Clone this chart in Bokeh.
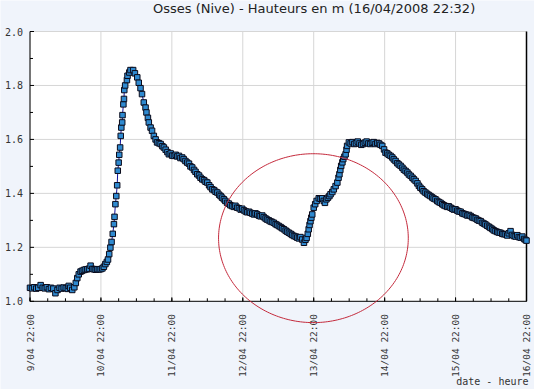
import numpy as np
from math import pi
from bokeh.plotting import figure
from bokeh.models import Range1d, PolyAnnotation, ColumnDataSource
from bokeh.core.properties import value
from bokeh.embed import file_html
from bokeh.resources import INLINE

# hours since 9/04 22:00
hours = [
    0.0, 0.7, 1.4, 2.1, 2.8, 3.6, 4.3, 5.0, 5.7, 6.4, 7.1, 7.9, 8.6, 9.3, 10.0, 10.7, 11.4, 12.1, 12.8, 13.1, 13.6, 14.3, 15.0,
    15.5, 16.0, 16.5, 17.1, 17.6, 18.2, 18.8, 19.4, 20.0, 20.5, 21.1, 21.6, 22.2, 22.7, 23.3, 23.9, 24.5, 25.0, 25.5, 26.0, 26.4,
    26.8, 27.2, 27.6, 28.0, 28.4, 28.6, 28.9, 29.2, 29.5, 29.7, 30.0, 30.2, 30.5, 30.7, 30.9, 31.2, 31.3, 31.6, 31.8, 31.9, 32.2, 32.8, 33.0, 33.6, 34.0,
    34.9, 35.5, 36.3, 36.8, 37.4, 37.9, 38.5, 39.1, 39.4, 39.9, 40.2, 40.8, 41.3, 41.9, 42.5, 43.0, 43.6, 44.2, 44.8, 45.3,
    45.9, 46.5, 47.0, 47.6, 48.1, 48.7, 49.3, 49.8, 50.4, 50.9, 51.5, 52.0, 52.6, 53.2, 53.8, 54.3, 54.9, 55.5, 56.0, 56.6, 57.2, 57.7,
    58.3, 58.9, 59.4, 60.0, 60.6, 61.1, 61.7, 62.3, 62.8, 63.4, 64.0, 64.5, 65.0, 65.6, 66.1, 66.7, 67.3, 67.8, 68.4, 69.0, 69.5, 70.1,
    70.7, 71.3, 71.8, 72.4, 73.0, 73.5, 74.1, 74.6, 75.2, 75.8, 76.3, 76.9, 77.5, 78.0, 78.6, 79.1, 79.7, 80.2, 80.8, 81.4, 81.9,
    82.5, 83.1, 83.6, 84.2, 84.8, 85.3, 85.9, 86.5, 87.0, 87.6, 88.2, 88.7, 89.3, 89.9, 90.4, 91.0, 91.5, 92.1, 92.7, 93.2,
    93.6, 94.0, 94.3, 94.6, 94.9, 95.2, 95.5, 96.0, 96.5, 97.0, 97.7, 98.3, 98.9, 99.4, 99.8, 100.3, 100.8,
    101.3, 101.7, 102.3, 102.8, 103.4, 104.0, 104.4, 104.7, 105.0, 105.3, 105.7, 106.0, 106.4, 106.8, 107.1, 107.3, 107.9,
    108.5, 109.1, 109.7, 110.3, 110.9, 111.5, 112.1, 112.7, 113.3, 113.9, 114.5, 115.1, 115.7, 116.3, 116.9, 117.5, 118.1, 118.6,
    119.2, 119.8, 120.3, 120.9, 121.4, 122.0, 122.6, 123.1, 123.7, 124.3, 124.8, 125.4, 126.0, 126.5, 127.1, 127.7, 128.2, 128.8, 129.4, 129.9,
    130.5, 131.1, 131.6, 132.1, 132.7, 133.2, 133.8, 134.4, 134.9, 135.5, 136.1, 136.6, 137.2, 137.8, 138.3, 138.9, 139.5, 140.0, 140.6, 141.2, 141.7,
    142.3, 142.9, 143.4, 144.0, 144.6, 145.1, 145.7, 146.3, 146.8, 147.4, 148.0, 148.5, 149.1, 149.7, 150.2, 150.8, 151.4, 151.9, 152.5, 153.1,
    153.6, 154.1, 154.7, 155.3, 155.8, 156.4, 156.9, 157.5, 158.1, 158.6, 159.2, 159.8, 160.3, 160.9, 161.5, 162.0, 162.6, 163.1, 163.7, 164.3,
    164.9, 165.4, 166.0, 166.6, 167.2, 167.7, 168.0,
]

# water height (m)
heights = [
    1.050, 1.048, 1.052, 1.047, 1.050, 1.060, 1.050, 1.048, 1.052, 1.045, 1.050, 1.047, 1.030, 1.042, 1.050, 1.047, 1.051, 1.049, 1.046, 1.057, 1.050, 1.042, 1.052,
    1.068, 1.086, 1.100, 1.110, 1.113, 1.116, 1.118, 1.119, 1.121, 1.132, 1.120, 1.119, 1.117, 1.119, 1.118, 1.119, 1.122, 1.128, 1.138, 1.146, 1.155,
    1.175, 1.199, 1.220, 1.250, 1.286, 1.313, 1.360, 1.390, 1.430, 1.484, 1.514, 1.543, 1.570, 1.613, 1.644, 1.663, 1.690, 1.730, 1.750, 1.783, 1.800, 1.820, 1.836, 1.848, 1.857,
    1.857, 1.845, 1.830, 1.810, 1.790, 1.768, 1.737, 1.718, 1.700, 1.680, 1.663, 1.644, 1.632, 1.613, 1.600, 1.589, 1.586, 1.583, 1.575, 1.570,
    1.562, 1.553, 1.545, 1.548, 1.540, 1.539, 1.543, 1.537, 1.539, 1.531, 1.533, 1.527, 1.520, 1.514, 1.510, 1.500, 1.496, 1.487, 1.480, 1.471, 1.466, 1.458,
    1.452, 1.449, 1.443, 1.440, 1.430, 1.423, 1.415, 1.412, 1.406, 1.403, 1.395, 1.390, 1.384, 1.378, 1.372, 1.365, 1.362, 1.356, 1.353, 1.350, 1.354, 1.347,
    1.345, 1.340, 1.343, 1.337, 1.333, 1.330, 1.332, 1.328, 1.325, 1.322, 1.326, 1.322, 1.317, 1.315, 1.318, 1.312, 1.307, 1.303, 1.300, 1.296, 1.294,
    1.291, 1.286, 1.283, 1.279, 1.275, 1.271, 1.267, 1.262, 1.258, 1.254, 1.250, 1.246, 1.242, 1.240, 1.236, 1.233, 1.238, 1.229, 1.217, 1.228,
    1.235, 1.250, 1.267, 1.283, 1.297, 1.310, 1.322, 1.347, 1.360, 1.372, 1.382, 1.380, 1.382, 1.372, 1.365, 1.378, 1.384,
    1.390, 1.397, 1.405, 1.415, 1.427, 1.440, 1.458, 1.471, 1.487, 1.502, 1.515, 1.527, 1.536, 1.545, 1.562, 1.576, 1.589,
    1.585, 1.590, 1.583, 1.586, 1.592, 1.585, 1.580, 1.583, 1.588, 1.592, 1.585, 1.583, 1.588, 1.590, 1.583, 1.587, 1.585, 1.580,
    1.576, 1.563, 1.551, 1.548, 1.543, 1.539, 1.533, 1.526, 1.520, 1.512, 1.507, 1.502, 1.495, 1.488, 1.483, 1.477, 1.470, 1.465, 1.458, 1.452,
    1.446, 1.437, 1.428, 1.421, 1.415, 1.408, 1.403, 1.398, 1.394, 1.390, 1.385, 1.381, 1.378, 1.372, 1.368, 1.365, 1.360, 1.356, 1.353, 1.350, 1.352,
    1.347, 1.343, 1.340, 1.341, 1.336, 1.333, 1.332, 1.326, 1.324, 1.322, 1.318, 1.320, 1.316, 1.311, 1.309, 1.307, 1.302, 1.299, 1.297, 1.291,
    1.288, 1.285, 1.280, 1.276, 1.272, 1.268, 1.263, 1.260, 1.257, 1.255, 1.254, 1.250, 1.249, 1.248, 1.244, 1.252, 1.260, 1.246, 1.242, 1.240,
    1.245, 1.238, 1.236, 1.240, 1.231, 1.227, 1.225,
]

day_ticks = [0, 24, 48, 72, 96, 120, 144, 168]
day_labels = ["9/04  22:00", "10/04  22:00", "11/04  22:00", "12/04  22:00",
              "13/04  22:00", "14/04  22:00", "15/04  22:00", "16/04  22:00"]
six_hour_ticks = list(range(0, 169, 6))
y_ticks = [1.0, 1.2, 1.4, 1.6, 1.8, 2.0]
y_labels = ["1.0", "1.2", "1.4", "1.6", "1.8", "2.0"]
y_minor_ticks = [1.1, 1.3, 1.5, 1.7, 1.9]
title_text = "Osses (Nive) - Hauteurs en m (16/04/2008 22:32)"
x_axis_text = "date - heure"
# highlight ellipse (center hour, center height, half-width in hours, half-height in m)
ring_center = (95.9, 1.234)
ring_radius = (32.1, 0.313)

BG = "#F0F4FB"
GRID = "#D6D6D6"
MONO = "DejaVu Sans Mono"
TXT = "#333333"

W, H = 534, 389
X0, X1, Y0, Y1 = 0, 168, 1.0, 2.0
# the frame covers the whole canvas; the plotting area is placed inside it like the reference
AREA_LEFT, AREA_RIGHT, AREA_TOP, AREA_BOTTOM = 29.5, 526.0, 31.0, 300.8
PXH = (AREA_RIGHT - AREA_LEFT) / (X1 - X0)     # px per hour
PXM = (AREA_BOTTOM - AREA_TOP) / (Y1 - Y0)     # px per metre
x_lo = X0 - AREA_LEFT / PXH
x_hi = X1 + (W - AREA_RIGHT) / PXH
y_hi = Y1 + AREA_TOP / PXM
y_lo = Y0 - (H - AREA_BOTTOM) / PXM

p = figure(width=W, height=H, output_backend="svg", toolbar_location=None, title=None,
           x_range=Range1d(x_lo, x_hi), y_range=Range1d(y_lo, y_hi),
           x_axis_location=None, y_axis_location=None,
           min_border=0)
p.border_fill_color = BG
p.background_fill_color = BG
p.outline_line_color = None
p.grid.visible = False

# plot area + grid
p.quad(left=X0, right=X1, bottom=Y0, top=Y1, fill_color="white", line_color=None, level="image")
p.segment(x0=day_ticks, y0=Y0, x1=day_ticks, y1=Y1, line_color=GRID, line_width=1, level="underlay")
p.segment(x0=X0, y0=y_ticks[1:], x1=X1, y1=y_ticks[1:], line_color=GRID, line_width=1, level="underlay")

# title
p.text(x=[X0 + 123 / PXH], y=[Y1 + 23 / PXM], text=[title_text], text_align="left", text_baseline="middle",
       text_font=value("DejaVu Sans"), text_font_size="13px", text_color="#222222")

# left axis
p.segment(x0=X0, y0=Y0, x1=X0, y1=Y1, line_color="black", line_width=1)
p.ray(x=X0, y=y_ticks, length=4, angle=0, length_units="screen", line_color="black", line_width=1)
p.ray(x=X0, y=y_minor_ticks, length=3, angle=0, length_units="screen", line_color="black", line_width=1)
p.text(x=X0 - 7 / PXH, y=y_ticks, text=y_labels, text_align="right", text_baseline="middle",
       text_font=value(MONO), text_font_size="10px", text_color=TXT)

# right border
p.segment(x0=X1, y0=Y0, x1=X1, y1=Y1, line_color="black", line_width=1.5)

# bottom axis
p.segment(x0=X0, y0=Y0, x1=X1, y1=Y0, line_color="black", line_width=1)
p.ray(x=six_hour_ticks, y=Y0, length=3, angle=pi / 2, length_units="screen", line_color="black", line_width=1)
p.ray(x=day_ticks, y=Y0, length=4, angle=pi / 2, length_units="screen", line_color="black", line_width=1)
p.text(x=day_ticks, y=Y0 - 7 / PXM, text=day_labels, angle=pi / 2,
       text_align="right", text_baseline="middle",
       text_font=value(MONO), text_font_size="9.5px", text_color=TXT)
p.text(x=[X1 + 2 / PXH], y=[Y0 - 80 / PXM], text=[x_axis_text], text_align="right", text_baseline="middle",
       text_font=value(MONO), text_font_size="10px", text_color=TXT)

# data
src = ColumnDataSource(data=dict(h=hours, v=heights))
p.line("h", "v", source=src, line_color="#10109A", line_width=1)
p.scatter("h", "v", source=src, marker="square", size=5.5,
          fill_color="#2F8AD0", line_color="#0A0A1A", line_width=1)

# highlight ring
t = np.linspace(0, 2 * pi, 240)
ring_x = list(ring_center[0] + ring_radius[0] * np.cos(t))
ring_y = list(ring_center[1] + ring_radius[1] * np.sin(t))
p.add_layout(PolyAnnotation(xs=ring_x, ys=ring_y, fill_color=None, fill_alpha=0,
                            line_color="#C42A3C", line_alpha=1, line_width=1))

open("out.html", "w").write(file_html(p, INLINE))
